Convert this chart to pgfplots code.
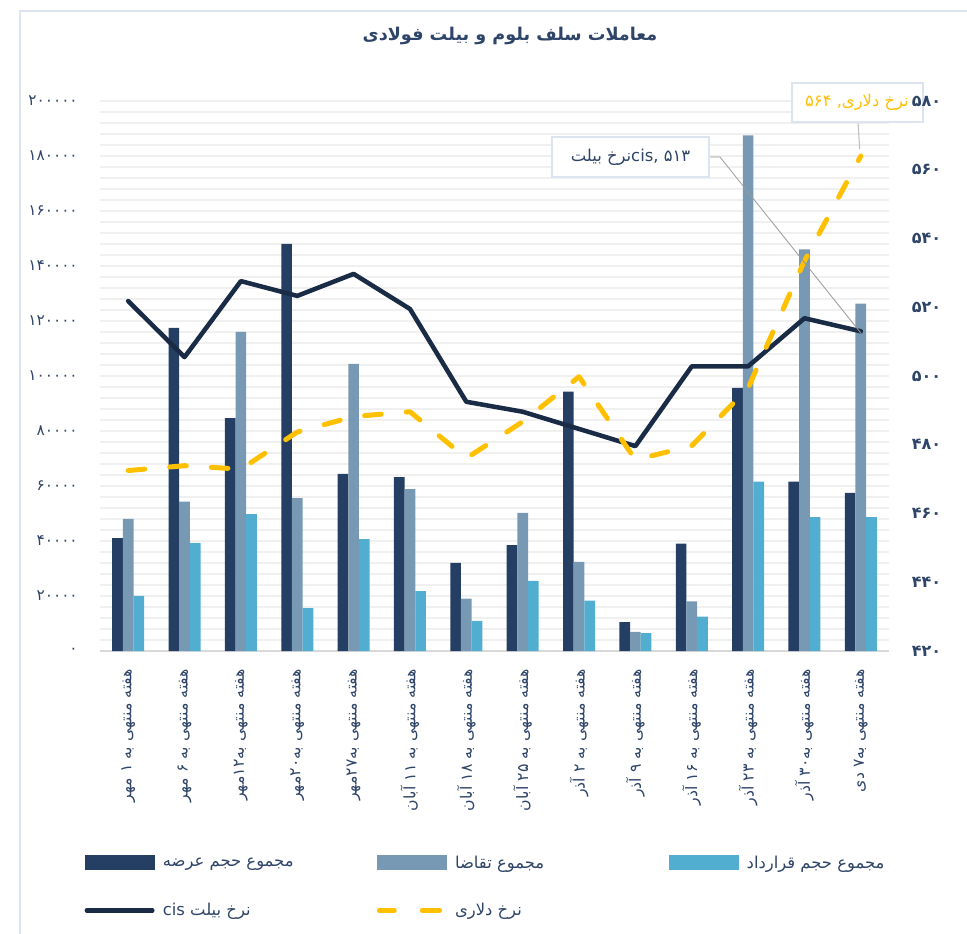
\documentclass[border=0pt]{standalone}
\usepackage{fontspec}
\setmainfont{DejaVu Sans}
\newfontfamily\fa[Script=Arabic]{DejaVu Sans}
\TeXXeTstate=1
\usepackage{pgfplots}
\pgfplotsset{compat=1.18}
\definecolor{cA}{HTML}{243F63}
\definecolor{cB}{HTML}{7899B4}
\definecolor{cC}{HTML}{52AED0}
\definecolor{cL}{HTML}{1A2B45}
\definecolor{cD}{HTML}{FFC000}
\definecolor{tx}{HTML}{2E4468}
\definecolor{gridc}{HTML}{F0F0F0}
\definecolor{framec}{HTML}{DCE4EF}
\definecolor{axc}{HTML}{D9D9D9}
\newcommand{\legtxt}[1]{\makebox[158.25pt][l]{#1}}
\begin{document}
\begin{tikzpicture}
\path[use as bounding box] (-75pt,-212.25pt) rectangle (650.25pt,488.25pt);
\draw[framec, line width=1.5pt] (-60pt,-215pt) -- (-60pt,480pt) -- (655pt,480pt);
\node[font=\fa\bfseries\fontsize{13.2}{15}\selectfont, text=tx] at (307.5pt,461pt) {\beginR معاملات سلف بلوم و بیلت فولادی\endR};

\begin{axis}[
  at={(0pt,0pt)}, anchor=south west,
  scale only axis, width=591.75pt, height=412.5pt,
  xmin=-0.5, xmax=13.5, ymin=0, ymax=200000,
  ybar=0pt, bar width=8pt,
  clip=false,
  axis x line*=bottom, axis y line*=left,
  y axis line style={draw=none},
  x axis line style={draw=axc, line width=1pt, -},
  tick style={draw=none},
  minor y tick num=4,
  ymajorgrids, yminorgrids,
  major grid style={gridc, line width=0.8pt},
  minor grid style={gridc, line width=0.8pt},
  scaled y ticks=false,
  ytick={0,20000,...,200000},
  yticklabels={۰,۲۰۰۰۰,۴۰۰۰۰,۶۰۰۰۰,۸۰۰۰۰,۱۰۰۰۰۰,۱۲۰۰۰۰,۱۴۰۰۰۰,۱۶۰۰۰۰,۱۸۰۰۰۰,۲۰۰۰۰۰},
  yticklabel style={font=\fa\fontsize{11.5}{13}\selectfont, text=tx, inner sep=0pt},
  yticklabel shift=16.5pt,
  xtick={0,...,13},
  xticklabels={
    {\beginR هفته منتهی به ۱ مهر\endR},
    {\beginR هفته منتهی به ۶ مهر\endR},
    {\beginR هفته منتهی به۱۲مهر\endR},
    {\beginR هفته منتهی به۲۰مهر\endR},
    {\beginR هفته منتهی به۲۷مهر\endR},
    {\beginR هفته منتهی به ۱۱ آبان\endR},
    {\beginR هفته منتهی به ۱۸ آبان\endR},
    {\beginR هفته منتهی به ۲۵ آبان\endR},
    {\beginR هفته منتهی به ۲ آذر\endR},
    {\beginR هفته منتهی به ۹ آذر\endR},
    {\beginR هفته منتهی به ۱۶ آذر\endR},
    {\beginR هفته منتهی به ۲۳ آذر\endR},
    {\beginR هفته منتهی به۳۰ آذر\endR},
    {\beginR هفته منتهی به۷ دی\endR}},
  xticklabel style={rotate=90, anchor=east, font=\fa\fontsize{11.8}{13}\selectfont, text=tx, inner sep=0pt},
  xticklabel shift=9pt,
  legend columns=3,
  legend cell align=left,
  legend style={at={(rel axis cs:-0.0253,-0.362)}, anchor=north west, draw=none, fill=none,
    font=\fa\fontsize{12.3}{14}\selectfont, text=tx,
    /tikz/every odd column/.append style={column sep=4pt},
    row sep=20.75pt},
]
\addplot[fill=cA, draw=none, legend image code/.code={\fill[cA] (0pt,-5.6pt) rectangle (52.5pt,5.6pt);}]
  coordinates {(0,41000) (1,117500) (2,84700) (3,148000) (4,64400) (5,63200) (6,32000) (7,38500) (8,94300) (9,10500) (10,39000) (11,95700) (12,61600) (13,57500)};
\addlegendentry{\legtxt{\beginR مجموع حجم عرضه\endR}}
\addplot[fill=cB, draw=none, legend image code/.code={\fill[cB] (0pt,-5.6pt) rectangle (52.5pt,5.6pt);}]
  coordinates {(0,48000) (1,54300) (2,116000) (3,55600) (4,104400) (5,58900) (6,19000) (7,50200) (8,32400) (9,7000) (10,18000) (11,187500) (12,146000) (13,126300)};
\addlegendentry{\legtxt{\beginR مجموع  تقاضا\endR}}
\addplot[fill=cC, draw=none, legend image code/.code={\fill[cC] (0pt,-5.6pt) rectangle (52.5pt,5.6pt);}]
  coordinates {(0,20000) (1,39300) (2,49800) (3,15600) (4,40700) (5,21800) (6,11000) (7,25500) (8,18300) (9,6500) (10,12500) (11,61600) (12,48700) (13,48700)};
\addlegendentry{\legtxt{\beginR مجموع  حجم قرارداد\endR}}
\addlegendimage{legend image code/.code={\draw[cL, line width=3.4pt, line cap=round] (1.7pt,0pt) -- (50.8pt,0pt); \path (0pt,-5.6pt) (52.5pt,5.6pt);}}
\addlegendentry{\legtxt{\beginR نرخ بیلت cis\endR}}
\addlegendimage{legend image code/.code={\draw[cD, line width=3.75pt, line cap=round] (1.9pt,0pt) -- (13.1pt,0pt) (34.2pt,0pt) -- (47.1pt,0pt); \path (0pt,-5.6pt) (52.5pt,5.6pt);}}
\addlegendentry{\legtxt{\beginR نرخ دلاری\endR}}
% dollar callout (drawn here so the right-axis tick labels stay on top)
\draw[gray!50, line width=0.8pt] (axis cs:12.95,192375) -- (axis cs:12.98,182500);
\node[draw=framec, fill=white, line width=1.2pt, minimum width=98.25pt, minimum height=29.25pt, inner sep=0pt] (dbox) at (axis cs:12.94,199500) {};
\node[anchor=east, inner sep=0pt, font=\fa\fontsize{12.3}{14}\selectfont, text=cD] at ([xshift=-11pt]dbox.east) {\beginR نرخ دلاری, ۵۶۴\endR};
\end{axis}

\begin{axis}[
  at={(0pt,0pt)}, anchor=south west,
  scale only axis, width=591.75pt, height=412.5pt,
  xmin=-0.5, xmax=13.5, ymin=420, ymax=580,
  axis x line=none, axis y line*=right,
  y axis line style={draw=none},
  tick style={draw=none},
  xtick=\empty,
  ytick={420,440,...,580},
  yticklabels={۴۲۰,۴۴۰,۴۶۰,۴۸۰,۵۰۰,۵۲۰,۵۴۰,۵۶۰,۵۸۰},
  yticklabel style={font=\fa\bfseries\fontsize{12}{14}\selectfont, text=tx, inner sep=0pt},
  yticklabel shift=17pt,
  clip=false,
]
\addplot[cL, line width=3.4pt, line join=round, line cap=round]
  coordinates {(0,521.8) (1,505.5) (2,527.6) (3,523.3) (4,529.7) (5,519.5) (6,492.5) (7,489.6) (8,484.6) (9,479.6) (10,502.8) (11,502.8) (12,516.8) (13,513)};
\addplot[cD, line width=3.75pt, line cap=round, line join=round, dash pattern=on 12.5pt off 18.75pt]
  coordinates {(0,472.5) (1,473.9) (2,472.9) (3,483.7) (4,488.2) (5,489.6) (6,476.1) (7,486.7) (8,499.8) (9,475.6) (10,479.7) (11,496.5) (12,533.5) (13,564)};
\draw[gray!80, line width=0.6pt] (axis cs:10.306,563.7) -- (axis cs:10.501,563.7) -- (axis cs:13,512.5);
\node[draw=framec, fill=white, line width=1.2pt, minimum width=117.75pt, minimum height=30pt, inner sep=0pt,
  font=\fa\fontsize{12.3}{14}\selectfont, text=tx] at (axis cs:8.913,563.7) {\beginR نرخ بیلت\endR cis, ۵۱۳};
\end{axis}
\end{tikzpicture}
\end{document}
